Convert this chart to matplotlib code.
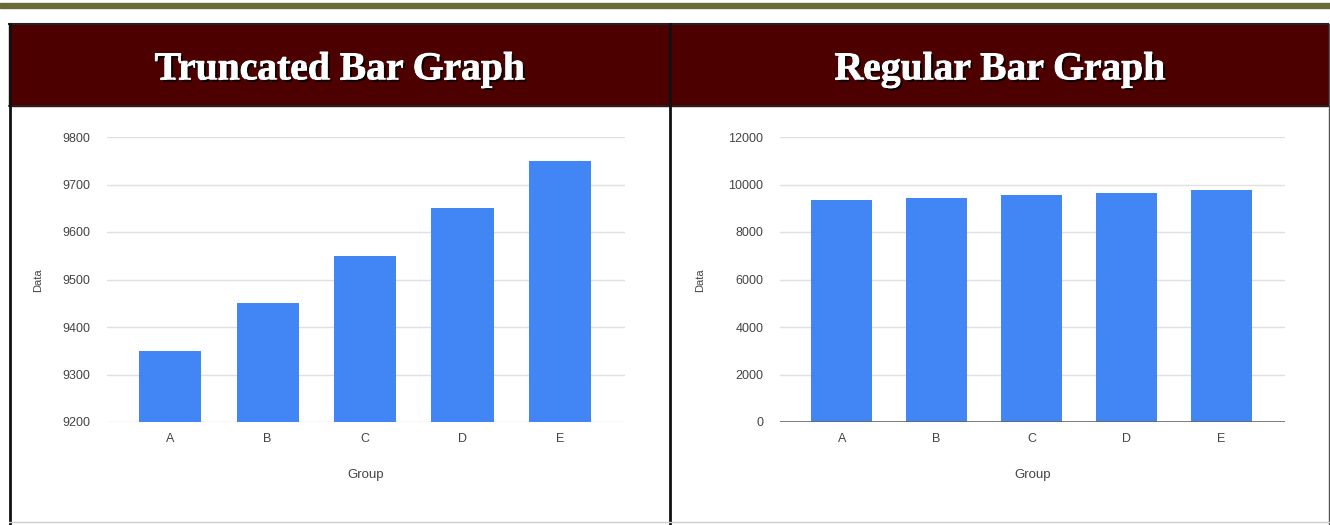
import matplotlib
matplotlib.use("Agg")
import matplotlib.pyplot as plt
import matplotlib.patheffects as pe
from matplotlib.patches import Rectangle

groups = ["A", "B", "C", "D", "E"]
values = [9350, 9450, 9550, 9650, 9750]
trunc_ticks = [9200, 9300, 9400, 9500, 9600, 9700, 9800]
regular_ticks = [0, 2000, 4000, 6000, 8000, 10000, 12000]
titles = ["Truncated Bar Graph", "Regular Bar Graph"]

W, H = 1330, 525
fig = plt.figure(figsize=(W / 100, H / 100), dpi=100)
fig.patch.set_facecolor("white")


def px(x0, y0, x1, y1):
    # pixel box (top-left origin) -> figure fraction rect
    return [x0 / W, 1 - y1 / H, (x1 - x0) / W, (y1 - y0) / H]


bg = fig.add_axes([0, 0, 1, 1])
bg.set_xlim(0, W); bg.set_ylim(H, 0); bg.axis("off")
bg.add_patch(Rectangle((0, 3), W, 5, color="#6b6b38"))
bg.add_patch(Rectangle((9, 24), W - 11, 82, color="#4d0000"))
bg.plot([9, W - 2], [24, 24], color="#222222", lw=1.5)
bg.plot([9, W - 2], [106, 106], color="#222222", lw=1.2)
bg.plot([9.5, 9.5], [24, H], color="#111111", lw=2)
bg.plot([669.5, 669.5], [24, H], color="#111111", lw=2)
bg.plot([W - 1.5, W - 1.5], [24, H], color="#555555", lw=1)
bg.plot([9, W], [522, 522], color="#cccccc", lw=1)
for cx, t in zip([340, 1000], titles):
    bg.text(cx, 70, t, color="white", ha="center", va="center",
            fontsize=28.5, fontweight="bold", family="Liberation Serif",
            path_effects=[pe.withStroke(linewidth=0.8, foreground="white"),
                          pe.withSimplePatchShadow(offset=(1.5, -1.5), shadow_rgbFace="black", alpha=0.9),
                          pe.Normal()])

specs = [
    (px(107, 137, 625, 422), trunc_ticks, 38, False),
    (px(780, 137, 1285, 422), regular_ticks, 700, True),
]
x = list(range(len(groups)))
for rect, ticks, ylab_x, base in specs:
    ax = fig.add_axes(rect)
    ax.bar(x, values, width=0.64, color="#4285f4", zorder=2)
    ax.set_ylim(ticks[0], ticks[-1])
    ax.set_xlim(-0.65, 4.67)
    ax.set_yticks(ticks)
    ax.set_xticks(x, groups)
    ax.grid(axis="y", color="#e0e0e0", lw=1, zorder=0)
    for s in ax.spines.values():
        s.set_visible(False)
    if base:
        ax.axhline(0, color="#666666", lw=1.2, zorder=3)
    for lab in ax.get_xticklabels() + ax.get_yticklabels():
        lab.set_family("Liberation Sans")
    ax.tick_params(length=0, labelsize=9, labelcolor="#444444")
    ax.tick_params(axis="y", pad=12)
    ax.tick_params(axis="x", pad=8)
    ax.set_xlabel("Group", fontsize=9.5, color="#444444", labelpad=17, family="Liberation Sans")
    fig.text(ylab_x / W, 1 - 280 / H, "Data", rotation=90, fontsize=8,
             color="#444444", ha="center", va="center", family="Liberation Sans")

fig.savefig("out.png", dpi=100)
